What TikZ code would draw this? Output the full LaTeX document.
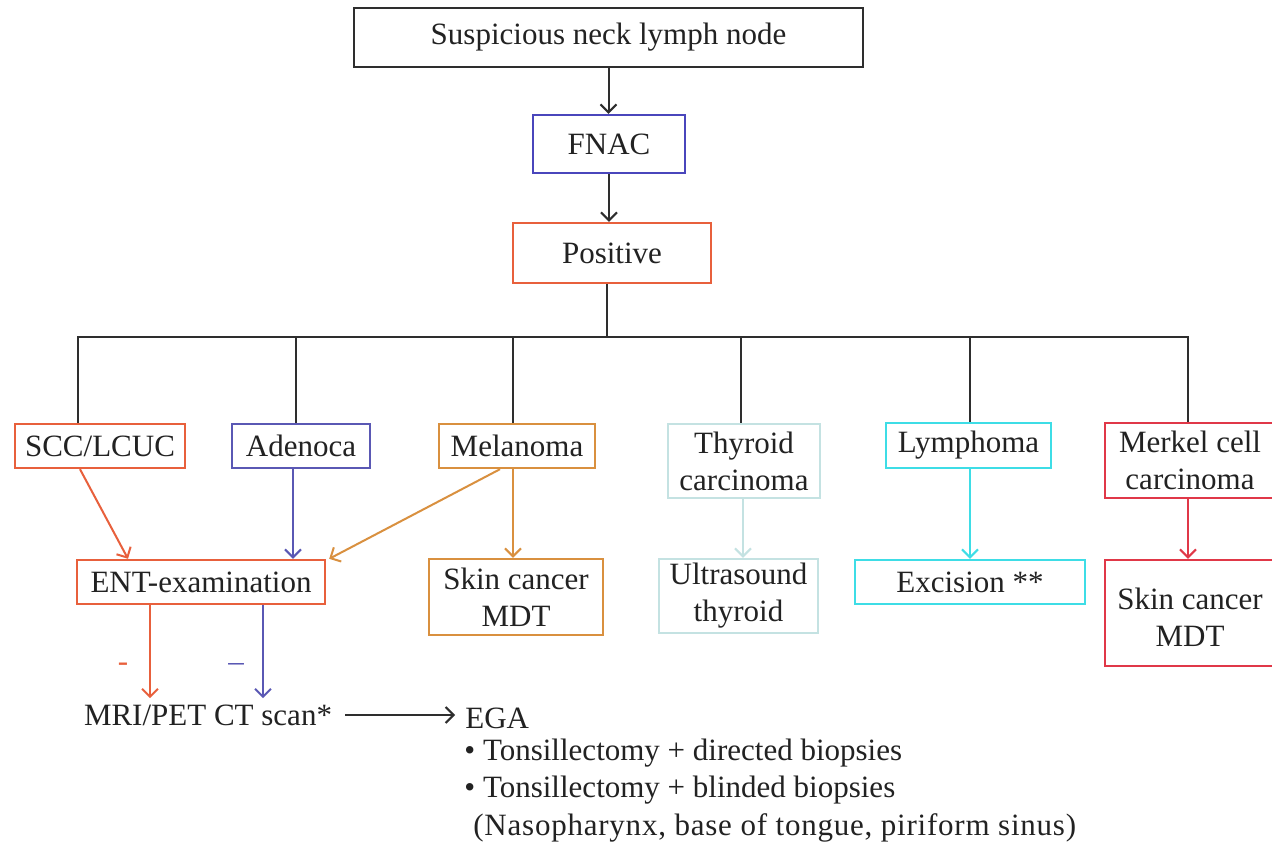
\documentclass[tikz,border=0pt]{standalone}
\usepackage{fontspec}
\setmainfont{Liberation Serif}
\usetikzlibrary{arrows.meta}
\definecolor{cblack}{HTML}{2E2E2E}
\definecolor{cred}{HTML}{E8603C}
\definecolor{cblue}{HTML}{5A58B4}
\definecolor{cfnac}{HTML}{4A46BC}
\definecolor{corange}{HTML}{D9903F}
\definecolor{cthy}{HTML}{C4E2E2}
\definecolor{ccyan}{HTML}{3EDDE6}
\definecolor{cmerk}{HTML}{E03848}
\definecolor{ctext}{HTML}{222222}
\begin{document}
\begin{tikzpicture}[x=0.5pt,y=-0.5pt,
  every node/.style={text=ctext,font=\fontsize{15.5}{18.5}\selectfont},
  box/.style={draw,line width=1.2pt,align=center,inner sep=0pt},
  conn/.style={line width=1pt},
  arr/.style={line width=1pt,-{Straight Barb[length=4pt,width=8pt]}},
  txt/.style={inner sep=3pt}
]
\useasboundingbox[fill=white] (0,0) rectangle (1272,844);

% top chain
\node[box,draw=cblack,minimum width=254.5pt,minimum height=29.5pt] (top) at (608.5,37.5) {Suspicious neck lymph node};
\node[box,draw=cfnac,minimum width=76pt,minimum height=29pt] (fnac) at (609,144) {FNAC};
\node[box,draw=cred,minimum width=99pt,minimum height=30pt] (pos) at (612,253) {Positive};

% row 1
\node[box,draw=cred,minimum width=85pt,minimum height=22pt] (scc) at (100,446) {SCC/LCUC};
\node[box,draw=cblue,minimum width=69pt,minimum height=22pt] (aden) at (301,446) {Adenoca};
\node[box,draw=corange,minimum width=78pt,minimum height=22pt] (mel) at (517,446) {Melanoma};
\node[box,draw=cthy,minimum width=76pt,minimum height=37pt] (thy) at (744,461) {Thyroid\\carcinoma};
\node[box,draw=ccyan,minimum width=82.5pt,minimum height=22.5pt] (lym) at (968.5,445.5) {Lymphoma};
\node[box,draw=cmerk,minimum width=85pt,minimum height=37.5pt] (merk) at (1190,460.5) {Merkel cell\\carcinoma};

% row 2
\node[box,draw=cred,minimum width=124pt,minimum height=22pt] (ent) at (201,582) {ENT-examination};
\node[box,draw=corange,minimum width=87pt,minimum height=38pt] (skina) at (516,597) {Skin cancer\\MDT};
\node[box,draw=cthy,minimum width=79.5pt,minimum height=37pt] (us) at (738.5,596) {Ultrasound\\thyroid};
\node[box,draw=ccyan,minimum width=115pt,minimum height=22pt] (exc) at (970,582) {Excision **};
\node[box,draw=cmerk,minimum width=85pt,minimum height=53pt,
  label={[yshift=-2pt,align=center,inner sep=0pt]center:{Skin cancer\\MDT}}] (skinb) at (1190,613) {};

% bottom texts
\node[txt] (mri) at (208,715) {MRI/PET CT scan*};
\node[txt,anchor=west] (ega) at (459,718) {EGA};
\node[txt,anchor=west] (b1) at (458,753) {\textbullet\ Tonsillectomy + directed biopsies};
\node[txt,anchor=west] (b2) at (458,790) {\textbullet\ Tonsillectomy + blinded biopsies};
\node[txt,anchor=west] (b3) at (467,828) {\addfontfeature{LetterSpace=2.5}(Nasopharynx, base of tongue, piriform sinus)};
\node[txt,text=cred] (m1) at (123,667) {-};
\node[txt,text=cblue] (m2) at (236,667) {–};

% connectors: top chain
\draw[arr,cblack] (top.south) -- (top.south |- fnac.north);
\draw[arr,cblack] (fnac.south) -- (fnac.south |- pos.north);
\coordinate (bar) at (607,337);
\draw[conn,cblack] (pos.south -| bar) -- (bar);
\draw[conn,cblack] (scc.north -| 78,0) -- (bar -| 78,0) -- (bar -| 1188,0) -- (merk.north -| 1188,0);
\draw[conn,cblack] (bar -| 296,0) -- (aden.north -| 296,0);
\draw[conn,cblack] (bar -| 513,0) -- (mel.north -| 513,0);
\draw[conn,cblack] (bar -| 741,0) -- (thy.north -| 741,0);
\draw[conn,cblack] (bar -| 970,0) -- (lym.north -| 970,0);

% row1 -> row2
\draw[arr,cred] (scc.south -| 80,0) -- (ent.north -| 128,0);
\draw[arr,cblue] (aden.south -| 293,0) -- (ent.north -| 293,0);
\draw[arr,corange] (mel.south -| 500,0) -- ([xshift=1.5pt]ent.north east);
\draw[arr,corange] (mel.south -| 513,0) -- (skina.north -| 513,0);
\draw[arr,cthy] (thy.south -| 743,0) -- (us.north -| 743,0);
\draw[arr,ccyan] (lym.south -| 970,0) -- (exc.north -| 970,0);
\draw[arr,cmerk] (merk.south -| 1188,0) -- (skinb.north -| 1188,0);

% ENT -> MRI
\draw[arr,cred] (ent.south -| 150,0) -- (mri.north -| 150,0);
\draw[arr,cblue] (ent.south -| 263,0) -- (mri.north -| 263,0);

% MRI -> EGA
\draw[arr,cblack,shorten <=3.5pt,shorten >=2pt] (mri.east) -- (mri.east -| ega.west);
\end{tikzpicture}
\end{document}
